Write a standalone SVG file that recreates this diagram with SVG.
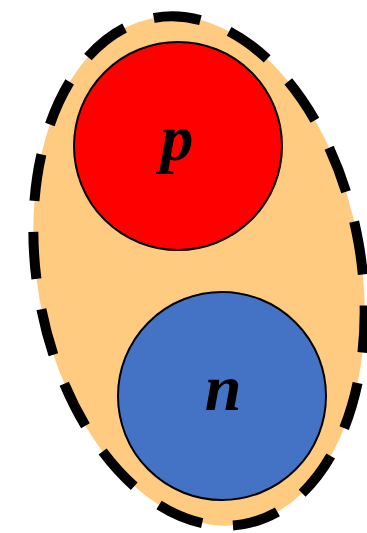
<svg xmlns="http://www.w3.org/2000/svg" width="367" height="533" viewBox="0 0 367 533">
<style>
.lbl{font-family:"Liberation Serif","DejaVu Serif",serif;font-style:italic;font-weight:bold;font-size:66px;fill:#000;text-anchor:middle}
.ball{stroke:#000;stroke-width:2}
</style>
<rect width="367" height="533" fill="#fff"/>
<g id="nucleus">
<ellipse cx="199" cy="271" rx="162" ry="257" transform="rotate(-10 199 271)" fill="#FFCB80" stroke="#000" stroke-width="10" stroke-dasharray="47 31" stroke-dashoffset="15"/>
</g>
<g id="connectors"></g>
<g id="proton">
<circle class="ball" cx="178" cy="146" r="104" fill="#FF0000"/>
<text class="lbl" x="177" y="160">p</text>
</g>
<g id="neutron">
<circle class="ball" cx="222" cy="396" r="104" fill="#4472C4"/>
<text class="lbl" x="223" y="410">n</text>
</g>
</svg>
